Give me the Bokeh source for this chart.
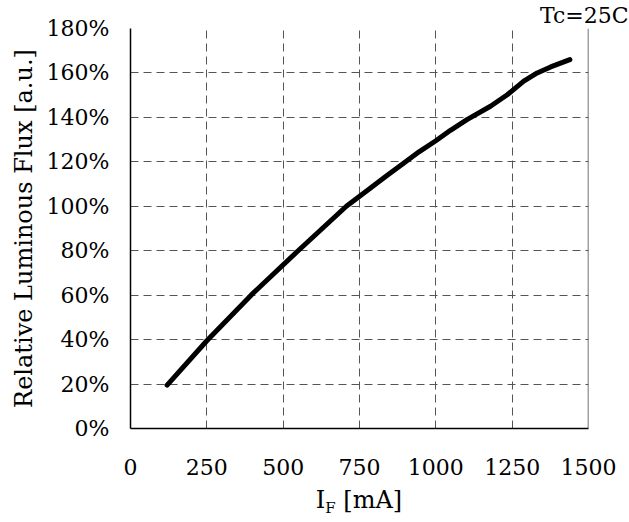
from bokeh.plotting import figure
from bokeh.models import Range1d, FixedTicker, Span, Title, Div
from bokeh.layouts import column
from bokeh.embed import file_html
from bokeh.resources import INLINE

# Data
current_ma = [120, 250, 395, 549, 707, 784, 840, 890, 945, 1000, 1048, 1102, 1179,
              1234, 1288, 1332, 1376, 1439]
rel_flux_pct = [19.5, 39.5, 60, 80, 100, 108, 113.8, 118.9, 124.5, 129.5, 134.2, 139,
                145, 150.2, 156.3, 160, 162.7, 166]

x_ticks = [0, 250, 500, 750, 1000, 1250, 1500]
y_ticks = [0, 20, 40, 60, 80, 100, 120, 140, 160, 180]
y_tick_labels = ["0%", "20%", "40%", "60%", "80%", "100%", "120%", "140%", "160%", "180%"]

FONT = "DejaVu Serif"

p = figure(width=629, height=484, output_backend="svg", toolbar_location=None,
           x_range=Range1d(0, 1500), y_range=Range1d(0, 180),
           min_border_left=130, min_border_right=41, min_border_top=28, min_border_bottom=56)
p.outline_line_color = None
p.background_fill_color = "white"
p.border_fill_color = "white"

p.line(current_ma, rel_flux_pct, line_color="black", line_width=5,
       line_cap="round", line_join="round")

for ax in (p.xaxis[0], p.yaxis[0]):
    ax.major_tick_line_color = None
    ax.minor_tick_line_color = None
    ax.major_tick_in = 0
    ax.major_tick_out = 0
    ax.minor_tick_in = 0
    ax.minor_tick_out = 0
    ax.axis_line_color = "black"
    ax.axis_line_width = 1.5
    ax.major_label_text_font = FONT
    ax.major_label_text_font_size = "22px"
    ax.major_label_text_color = "black"

p.xaxis.ticker = FixedTicker(ticks=x_ticks)
p.yaxis.ticker = FixedTicker(ticks=y_ticks)
p.yaxis.major_label_overrides = {v: s for v, s in zip(y_ticks, y_tick_labels)}
p.xaxis.major_label_standoff = 30
p.yaxis.major_label_standoff = 21

p.yaxis.axis_label = "Relative Luminous Flux [a.u.]"
p.yaxis.axis_label_text_font = FONT
p.yaxis.axis_label_text_font_size = "24px"
p.yaxis.axis_label_text_font_style = "normal"
p.yaxis.axis_label_text_color = "black"
p.yaxis.axis_label_standoff = 6

for g in (p.xgrid[0], p.ygrid[0]):
    g.grid_line_color = "#555555"
    g.grid_line_dash = "8 5"
    g.grid_line_width = 1
p.xgrid.ticker = FixedTicker(ticks=x_ticks)
p.ygrid.ticker = FixedTicker(ticks=y_ticks)

p.add_layout(Span(location=1500, dimension="height", line_color="#444444", line_width=1.5))

tc = Title(text="Tc=25C", align="right", offset=-40, standoff=1,
           text_font=FONT, text_font_size="22px", text_font_style="normal",
           text_color="black")
p.add_layout(tc, "above")

xtitle = Div(text='I<sub style="font-size:15px;vertical-align:-5px;line-height:0">F</sub> [mA]',
             width=458, height=38, margin=(0, 0, 0, 130),
             styles={"font-family": FONT, "font-size": "24px", "color": "black",
                     "text-align": "center", "line-height": "32px", "width": "458px"})

layout = column(p, xtitle, spacing=0)

open("out.html", "w").write(file_html(layout, INLINE))
